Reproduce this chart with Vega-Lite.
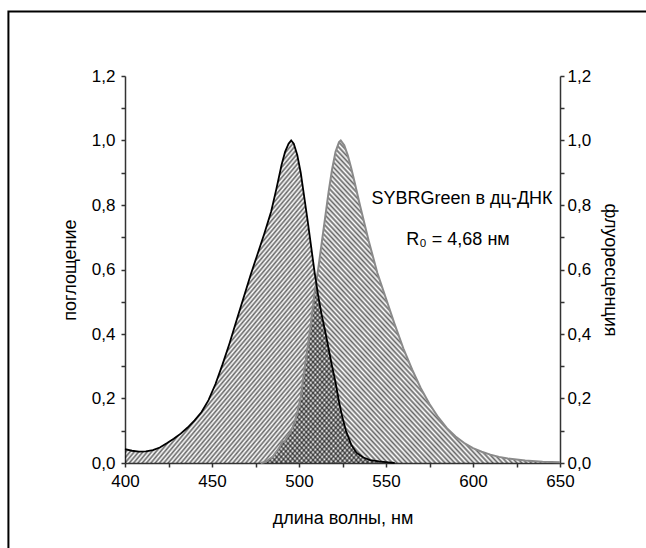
{
  "$schema": "https://vega.github.io/schema/vega-lite/v6.json",
  "width": 435,
  "height": 387,
  "autosize": {"type": "none"},
  "padding": {"left": 125, "top": 76, "right": 86, "bottom": 85},
  "background": "white",
  "params": [
    {"name": "hatch", "value": [
{"offset":0,"color":"#0000"},{"offset":0.004,"color":"#0009"},{"offset":0.008,"color":"#0000"},{"offset":0.012,"color":"#0009"},{"offset":0.016,"color":"#0000"},{"offset":0.02,"color":"#0009"},{"offset":0.024,"color":"#0000"},{"offset":0.028,"color":"#0009"},{"offset":0.032,"color":"#0000"},{"offset":0.036,"color":"#0009"},{"offset":0.04,"color":"#0000"},{"offset":0.044,"color":"#0009"},{"offset":0.048,"color":"#0000"},{"offset":0.052,"color":"#0009"},{"offset":0.056,"color":"#0000"},{"offset":0.06,"color":"#0009"},{"offset":0.064,"color":"#0000"},{"offset":0.068,"color":"#0009"},{"offset":0.072,"color":"#0000"},{"offset":0.076,"color":"#0009"},{"offset":0.08,"color":"#0000"},{"offset":0.084,"color":"#0009"},{"offset":0.088,"color":"#0000"},{"offset":0.092,"color":"#0009"},{"offset":0.096,"color":"#0000"},
{"offset":0.1,"color":"#0009"},{"offset":0.104,"color":"#0000"},{"offset":0.108,"color":"#0009"},{"offset":0.112,"color":"#0000"},{"offset":0.116,"color":"#0009"},{"offset":0.12,"color":"#0000"},{"offset":0.124,"color":"#0009"},{"offset":0.128,"color":"#0000"},{"offset":0.132,"color":"#0009"},{"offset":0.136,"color":"#0000"},{"offset":0.14,"color":"#0009"},{"offset":0.144,"color":"#0000"},{"offset":0.148,"color":"#0009"},{"offset":0.152,"color":"#0000"},{"offset":0.156,"color":"#0009"},{"offset":0.16,"color":"#0000"},{"offset":0.164,"color":"#0009"},{"offset":0.168,"color":"#0000"},{"offset":0.172,"color":"#0009"},{"offset":0.176,"color":"#0000"},{"offset":0.18,"color":"#0009"},{"offset":0.184,"color":"#0000"},{"offset":0.188,"color":"#0009"},{"offset":0.192,"color":"#0000"},{"offset":0.196,"color":"#0009"},
{"offset":0.2,"color":"#0000"},{"offset":0.204,"color":"#0009"},{"offset":0.208,"color":"#0000"},{"offset":0.212,"color":"#0009"},{"offset":0.216,"color":"#0000"},{"offset":0.22,"color":"#0009"},{"offset":0.224,"color":"#0000"},{"offset":0.228,"color":"#0009"},{"offset":0.232,"color":"#0000"},{"offset":0.236,"color":"#0009"},{"offset":0.24,"color":"#0000"},{"offset":0.244,"color":"#0009"},{"offset":0.248,"color":"#0000"},{"offset":0.252,"color":"#0009"},{"offset":0.256,"color":"#0000"},{"offset":0.26,"color":"#0009"},{"offset":0.264,"color":"#0000"},{"offset":0.268,"color":"#0009"},{"offset":0.272,"color":"#0000"},{"offset":0.276,"color":"#0009"},{"offset":0.28,"color":"#0000"},{"offset":0.284,"color":"#0009"},{"offset":0.288,"color":"#0000"},{"offset":0.292,"color":"#0009"},{"offset":0.296,"color":"#0000"},
{"offset":0.3,"color":"#0009"},{"offset":0.304,"color":"#0000"},{"offset":0.308,"color":"#0009"},{"offset":0.312,"color":"#0000"},{"offset":0.316,"color":"#0009"},{"offset":0.32,"color":"#0000"},{"offset":0.324,"color":"#0009"},{"offset":0.328,"color":"#0000"},{"offset":0.332,"color":"#0009"},{"offset":0.336,"color":"#0000"},{"offset":0.34,"color":"#0009"},{"offset":0.344,"color":"#0000"},{"offset":0.348,"color":"#0009"},{"offset":0.352,"color":"#0000"},{"offset":0.356,"color":"#0009"},{"offset":0.36,"color":"#0000"},{"offset":0.364,"color":"#0009"},{"offset":0.368,"color":"#0000"},{"offset":0.372,"color":"#0009"},{"offset":0.376,"color":"#0000"},{"offset":0.38,"color":"#0009"},{"offset":0.384,"color":"#0000"},{"offset":0.388,"color":"#0009"},{"offset":0.392,"color":"#0000"},{"offset":0.396,"color":"#0009"},
{"offset":0.4,"color":"#0000"},{"offset":0.404,"color":"#0009"},{"offset":0.408,"color":"#0000"},{"offset":0.412,"color":"#0009"},{"offset":0.416,"color":"#0000"},{"offset":0.42,"color":"#0009"},{"offset":0.424,"color":"#0000"},{"offset":0.428,"color":"#0009"},{"offset":0.432,"color":"#0000"},{"offset":0.436,"color":"#0009"},{"offset":0.44,"color":"#0000"},{"offset":0.444,"color":"#0009"},{"offset":0.448,"color":"#0000"},{"offset":0.452,"color":"#0009"},{"offset":0.456,"color":"#0000"},{"offset":0.46,"color":"#0009"},{"offset":0.464,"color":"#0000"},{"offset":0.468,"color":"#0009"},{"offset":0.472,"color":"#0000"},{"offset":0.476,"color":"#0009"},{"offset":0.48,"color":"#0000"},{"offset":0.484,"color":"#0009"},{"offset":0.488,"color":"#0000"},{"offset":0.492,"color":"#0009"},{"offset":0.496,"color":"#0000"},
{"offset":0.5,"color":"#0009"},{"offset":0.504,"color":"#0000"},{"offset":0.508,"color":"#0009"},{"offset":0.512,"color":"#0000"},{"offset":0.516,"color":"#0009"},{"offset":0.52,"color":"#0000"},{"offset":0.524,"color":"#0009"},{"offset":0.528,"color":"#0000"},{"offset":0.532,"color":"#0009"},{"offset":0.536,"color":"#0000"},{"offset":0.54,"color":"#0009"},{"offset":0.544,"color":"#0000"},{"offset":0.548,"color":"#0009"},{"offset":0.552,"color":"#0000"},{"offset":0.556,"color":"#0009"},{"offset":0.56,"color":"#0000"},{"offset":0.564,"color":"#0009"},{"offset":0.568,"color":"#0000"},{"offset":0.572,"color":"#0009"},{"offset":0.576,"color":"#0000"},{"offset":0.58,"color":"#0009"},{"offset":0.584,"color":"#0000"},{"offset":0.588,"color":"#0009"},{"offset":0.592,"color":"#0000"},{"offset":0.596,"color":"#0009"},
{"offset":0.6,"color":"#0000"},{"offset":0.604,"color":"#0009"},{"offset":0.608,"color":"#0000"},{"offset":0.612,"color":"#0009"},{"offset":0.616,"color":"#0000"},{"offset":0.62,"color":"#0009"},{"offset":0.624,"color":"#0000"},{"offset":0.628,"color":"#0009"},{"offset":0.632,"color":"#0000"},{"offset":0.636,"color":"#0009"},{"offset":0.64,"color":"#0000"},{"offset":0.644,"color":"#0009"},{"offset":0.648,"color":"#0000"},{"offset":0.652,"color":"#0009"},{"offset":0.656,"color":"#0000"},{"offset":0.66,"color":"#0009"},{"offset":0.664,"color":"#0000"},{"offset":0.668,"color":"#0009"},{"offset":0.672,"color":"#0000"},{"offset":0.676,"color":"#0009"},{"offset":0.68,"color":"#0000"},{"offset":0.684,"color":"#0009"},{"offset":0.688,"color":"#0000"},{"offset":0.692,"color":"#0009"},{"offset":0.696,"color":"#0000"},
{"offset":0.7,"color":"#0009"},{"offset":0.704,"color":"#0000"},{"offset":0.708,"color":"#0009"},{"offset":0.712,"color":"#0000"},{"offset":0.716,"color":"#0009"},{"offset":0.72,"color":"#0000"},{"offset":0.724,"color":"#0009"},{"offset":0.728,"color":"#0000"},{"offset":0.732,"color":"#0009"},{"offset":0.736,"color":"#0000"},{"offset":0.74,"color":"#0009"},{"offset":0.744,"color":"#0000"},{"offset":0.748,"color":"#0009"},{"offset":0.752,"color":"#0000"},{"offset":0.756,"color":"#0009"},{"offset":0.76,"color":"#0000"},{"offset":0.764,"color":"#0009"},{"offset":0.768,"color":"#0000"},{"offset":0.772,"color":"#0009"},{"offset":0.776,"color":"#0000"},{"offset":0.78,"color":"#0009"},{"offset":0.784,"color":"#0000"},{"offset":0.788,"color":"#0009"},{"offset":0.792,"color":"#0000"},{"offset":0.796,"color":"#0009"},
{"offset":0.8,"color":"#0000"},{"offset":0.804,"color":"#0009"},{"offset":0.808,"color":"#0000"},{"offset":0.812,"color":"#0009"},{"offset":0.816,"color":"#0000"},{"offset":0.82,"color":"#0009"},{"offset":0.824,"color":"#0000"},{"offset":0.828,"color":"#0009"},{"offset":0.832,"color":"#0000"},{"offset":0.836,"color":"#0009"},{"offset":0.84,"color":"#0000"},{"offset":0.844,"color":"#0009"},{"offset":0.848,"color":"#0000"},{"offset":0.852,"color":"#0009"},{"offset":0.856,"color":"#0000"},{"offset":0.86,"color":"#0009"},{"offset":0.864,"color":"#0000"},{"offset":0.868,"color":"#0009"},{"offset":0.872,"color":"#0000"},{"offset":0.876,"color":"#0009"},{"offset":0.88,"color":"#0000"},{"offset":0.884,"color":"#0009"},{"offset":0.888,"color":"#0000"},{"offset":0.892,"color":"#0009"},{"offset":0.896,"color":"#0000"},
{"offset":0.9,"color":"#0009"},{"offset":0.904,"color":"#0000"},{"offset":0.908,"color":"#0009"},{"offset":0.912,"color":"#0000"},{"offset":0.916,"color":"#0009"},{"offset":0.92,"color":"#0000"},{"offset":0.924,"color":"#0009"},{"offset":0.928,"color":"#0000"},{"offset":0.932,"color":"#0009"},{"offset":0.936,"color":"#0000"},{"offset":0.94,"color":"#0009"},{"offset":0.944,"color":"#0000"},{"offset":0.948,"color":"#0009"},{"offset":0.952,"color":"#0000"},{"offset":0.956,"color":"#0009"},{"offset":0.96,"color":"#0000"},{"offset":0.964,"color":"#0009"},{"offset":0.968,"color":"#0000"},{"offset":0.972,"color":"#0009"},{"offset":0.976,"color":"#0000"},{"offset":0.98,"color":"#0009"},{"offset":0.984,"color":"#0000"},{"offset":0.988,"color":"#0009"},{"offset":0.992,"color":"#0000"},{"offset":0.996,"color":"#0009"},
{"offset":1,"color":"#0000"}
    ]}
  ],
  "datasets": {
    "abs": [
      {"lambda": 400, "val": 0.043}, {"lambda": 404, "val": 0.038}, {"lambda": 408, "val": 0.035}, {"lambda": 412, "val": 0.036},
      {"lambda": 416, "val": 0.040}, {"lambda": 420, "val": 0.048}, {"lambda": 424, "val": 0.061}, {"lambda": 428, "val": 0.075},
      {"lambda": 432, "val": 0.091}, {"lambda": 436, "val": 0.11}, {"lambda": 440, "val": 0.132}, {"lambda": 444, "val": 0.158},
      {"lambda": 448, "val": 0.195}, {"lambda": 452, "val": 0.245}, {"lambda": 456, "val": 0.305}, {"lambda": 460, "val": 0.37},
      {"lambda": 464, "val": 0.44}, {"lambda": 468, "val": 0.51}, {"lambda": 472, "val": 0.58}, {"lambda": 476, "val": 0.645},
      {"lambda": 480, "val": 0.71}, {"lambda": 484, "val": 0.78}, {"lambda": 487, "val": 0.85}, {"lambda": 490, "val": 0.925},
      {"lambda": 492, "val": 0.965}, {"lambda": 494, "val": 0.99}, {"lambda": 495.5, "val": 1.0}, {"lambda": 497, "val": 0.99},
      {"lambda": 499, "val": 0.955}, {"lambda": 501, "val": 0.9}, {"lambda": 503, "val": 0.825}, {"lambda": 505, "val": 0.75},
      {"lambda": 507, "val": 0.67}, {"lambda": 509, "val": 0.59}, {"lambda": 511, "val": 0.52}, {"lambda": 513, "val": 0.46},
      {"lambda": 515, "val": 0.41}, {"lambda": 517, "val": 0.355}, {"lambda": 519, "val": 0.3}, {"lambda": 521, "val": 0.25},
      {"lambda": 523, "val": 0.19}, {"lambda": 525, "val": 0.14}, {"lambda": 527, "val": 0.1}, {"lambda": 530, "val": 0.057},
      {"lambda": 533, "val": 0.032}, {"lambda": 537, "val": 0.017}, {"lambda": 541, "val": 0.009}, {"lambda": 546, "val": 0.005},
      {"lambda": 550, "val": 0.003}, {"lambda": 555, "val": 0}
    ],
    "em": [
      {"lambda": 478, "val": 0}, {"lambda": 481, "val": 0.004}, {"lambda": 485, "val": 0.02}, {"lambda": 489, "val": 0.05},
      {"lambda": 490.5, "val": 0.068}, {"lambda": 491.5, "val": 0.064}, {"lambda": 493, "val": 0.078}, {"lambda": 495, "val": 0.095},
      {"lambda": 497, "val": 0.12}, {"lambda": 499, "val": 0.155}, {"lambda": 501, "val": 0.205}, {"lambda": 503, "val": 0.285},
      {"lambda": 505, "val": 0.36}, {"lambda": 507, "val": 0.44}, {"lambda": 509, "val": 0.53}, {"lambda": 511, "val": 0.6},
      {"lambda": 513, "val": 0.68}, {"lambda": 515, "val": 0.76}, {"lambda": 517, "val": 0.84}, {"lambda": 519, "val": 0.91},
      {"lambda": 521, "val": 0.965}, {"lambda": 523, "val": 0.995}, {"lambda": 524, "val": 1.0}, {"lambda": 526, "val": 0.985},
      {"lambda": 528, "val": 0.955}, {"lambda": 530, "val": 0.915}, {"lambda": 532, "val": 0.87}, {"lambda": 535, "val": 0.8},
      {"lambda": 540, "val": 0.69}, {"lambda": 545, "val": 0.59}, {"lambda": 550, "val": 0.51}, {"lambda": 555, "val": 0.43},
      {"lambda": 560, "val": 0.355}, {"lambda": 565, "val": 0.29}, {"lambda": 570, "val": 0.232}, {"lambda": 575, "val": 0.183},
      {"lambda": 580, "val": 0.142}, {"lambda": 585, "val": 0.108}, {"lambda": 590, "val": 0.082}, {"lambda": 595, "val": 0.062},
      {"lambda": 600, "val": 0.046}, {"lambda": 605, "val": 0.035}, {"lambda": 610, "val": 0.026}, {"lambda": 615, "val": 0.019},
      {"lambda": 620, "val": 0.014}, {"lambda": 630, "val": 0.008}, {"lambda": 640, "val": 0.004}, {"lambda": 650, "val": 0.002}
    ]
  },
  "config": {
    "view": {"stroke": null},
    "font": "Liberation Sans",
    "axis": {
      "grid": false,
      "labelFont": "Liberation Sans",
      "labelFontSize": 17,
      "labelColor": "#000",
      "titleFont": "Liberation Sans",
      "titleFontSize": 18,
      "titleFontWeight": "normal",
      "titleColor": "#000",
      "domainColor": "#333",
      "domainWidth": 1.5,
      "tickColor": "#333",
      "tickWidth": 1.5,
      "labelFlush": false,
      "labelOverlap": false,
      "labelBound": false
    }
  },
  "resolve": {"axis": {"y": "independent"}},
  "layer": [
    {
      "data": {"name": "em"},
      "mark": {"type": "area", "fill": {"expr": "{gradient: 'linear', x1: 0, y1: 1, x2: 1, y2: 0, stops: hatch}"}, "fillOpacity": 1},
      "encoding": {
        "x": {
          "field": "lambda", "type": "quantitative", "scale": {"domain": [400, 650]},
          "axis": {
            "title": "длина волны, нм",
            "values": [400, 425, 450, 475, 500, 525, 550, 575, 600, 625, 650],
            "labelExpr": "datum.value % 50 === 0 ? datum.label : ''",
            "tickSize": 4,
            "labelPadding": 6,
            "titlePadding": 20
          }
        },
        "y": {
          "field": "val", "type": "quantitative", "scale": {"domain": [0, 1.2]},
          "axis": {
            "orient": "left",
            "title": "поглощение",
            "values": [0, 0.1, 0.2, 0.3, 0.4, 0.5, 0.6, 0.7, 0.8, 0.9, 1.0, 1.1, 1.2],
            "labelExpr": "round(datum.value * 10) % 2 === 0 ? replace(format(datum.value, '.1f'), '.', ',') : ''",
            "tickSize": 4,
            "labelPadding": 6,
            "titlePadding": 12
          }
        }
      }
    },
    {
      "data": {"name": "abs"},
      "mark": {"type": "area", "fill": {"expr": "{gradient: 'linear', x1: 0, y1: 0, x2: 1, y2: 1, stops: hatch}"}, "fillOpacity": 1},
      "encoding": {
        "x": {"field": "lambda", "type": "quantitative", "scale": {"domain": [400, 650]}},
        "y": {"field": "val", "type": "quantitative", "scale": {"domain": [0, 1.2]}, "axis": null}
      }
    },
    {
      "data": {"name": "em"},
      "mark": {"type": "line", "color": "#8a8a8a", "strokeWidth": 2},
      "encoding": {
        "x": {"field": "lambda", "type": "quantitative", "scale": {"domain": [400, 650]}},
        "y": {"field": "val", "type": "quantitative", "scale": {"domain": [0, 1.2]}, "axis": null}
      }
    },
    {
      "data": {"name": "abs"},
      "mark": {"type": "line", "color": "#000", "strokeWidth": 1.8},
      "encoding": {
        "x": {"field": "lambda", "type": "quantitative", "scale": {"domain": [400, 650]}},
        "y": {
          "field": "val", "type": "quantitative", "scale": {"domain": [0, 1.2]},
          "axis": {
            "orient": "right",
            "title": "флуоресценция",
            "values": [0, 0.1, 0.2, 0.3, 0.4, 0.5, 0.6, 0.7, 0.8, 0.9, 1.0, 1.1, 1.2],
            "labelExpr": "round(datum.value * 10) % 2 === 0 ? replace(format(datum.value, '.1f'), '.', ',') : ''",
            "tickSize": 4,
            "labelPadding": 3,
            "titlePadding": 10
          }
        }
      }
    },
    {
      "data": {"values": [{}]},
      "mark": {"type": "text", "text": "SYBRGreen в дц-ДНК", "font": "Liberation Sans", "fontSize": 18, "align": "center", "baseline": "middle", "color": "#000"},
      "encoding": {
        "x": {"datum": 593.7, "type": "quantitative", "scale": {"domain": [400, 650]}},
        "y": {"datum": 0.819, "type": "quantitative", "scale": {"domain": [0, 1.2]}, "axis": null}
      }
    },
    {
      "data": {"values": [{}]},
      "mark": {"type": "text", "text": "R₀ = 4,68 нм", "font": "Liberation Sans", "fontSize": 18, "align": "center", "baseline": "middle", "color": "#000"},
      "encoding": {
        "x": {"datum": 591.4, "type": "quantitative", "scale": {"domain": [400, 650]}},
        "y": {"datum": 0.691, "type": "quantitative", "scale": {"domain": [0, 1.2]}, "axis": null}
      }
    },
    {
      "data": {"values": [{}]},
      "mark": {"type": "rect", "fill": null, "stroke": "#000", "strokeWidth": 2, "clip": false},
      "encoding": {
        "x": {"datum": 333, "type": "quantitative", "scale": {"domain": [400, 650]}},
        "x2": {"datum": 800},
        "y": {"datum": 1.4, "type": "quantitative", "scale": {"domain": [0, 1.2]}, "axis": null},
        "y2": {"datum": -1}
      }
    }
  ]
}
